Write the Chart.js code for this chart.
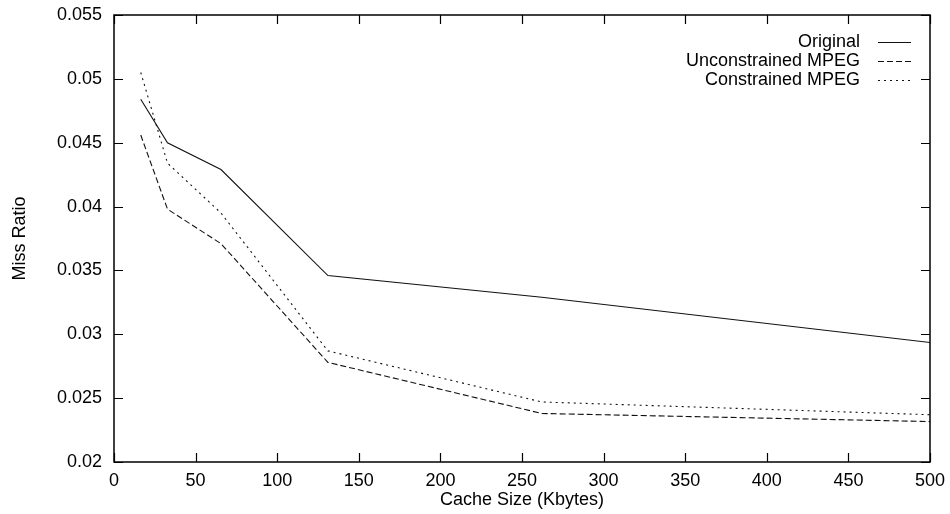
<!DOCTYPE html>
<html>
<head>
<meta charset="utf-8">
<script src="https://cdn.jsdelivr.net/npm/chart.js@4/dist/chart.umd.min.js"></script>
<style>
  html, body { margin: 0; padding: 0; background: #fff; }
  canvas { display: block; }
</style>
</head>
<body>
<canvas id="c" width="950" height="514"></canvas>
<script>
// Cache sizes (Kbytes) at which the miss ratio was measured
const cacheSizes = [16.384, 32.768, 65.536, 131.072, 262.144, 524.288];

// Miss ratio per trace
const originalMiss      = [0.0484, 0.0450, 0.0429, 0.0346, 0.0329, 0.0290];
const unconstrainedMiss = [0.0456, 0.0398, 0.0371, 0.0278, 0.0238, 0.0231];
const constrainedMiss   = [0.0505, 0.0434, 0.0395, 0.0287, 0.0247, 0.0236];

const seriesNames = ['Original', 'Unconstrained MPEG', 'Constrained MPEG'];

// Axis tick labels
const xTickLabels = ['0', '50', '100', '150', '200', '250', '300', '350', '400', '450', '500'];
const yTickLabels = ['0.02', '0.025', '0.03', '0.035', '0.04', '0.045', '0.05', '0.055'];

const FONT = 'Liberation Sans, Arial, Helvetica, sans-serif';

function toPoints(ys) {
  return cacheSizes.map((x, i) => ({ x: x, y: ys[i] }));
}

// Box border with inward tick marks on all four sides
const frameTicks = {
  id: 'frameTicks',
  afterDraw(chart) {
    const { ctx, chartArea: a, scales } = chart;
    const len = 9;
    ctx.save();
    ctx.strokeStyle = '#000';
    ctx.lineWidth = 1.5;
    ctx.strokeRect(a.left, a.top, a.right - a.left, a.bottom - a.top);
    ctx.lineWidth = 1.2;
    ctx.beginPath();
    scales.x.ticks.forEach(t => {
      const px = Math.round(scales.x.getPixelForValue(t.value)) + 0.5;
      ctx.moveTo(px, a.bottom); ctx.lineTo(px, a.bottom - len);
      ctx.moveTo(px, a.top); ctx.lineTo(px, a.top + len);
    });
    scales.y.ticks.forEach(t => {
      const py = Math.round(scales.y.getPixelForValue(t.value)) + 0.5;
      ctx.moveTo(a.left, py); ctx.lineTo(a.left + len, py);
      ctx.moveTo(a.right, py); ctx.lineTo(a.right - len, py);
    });
    ctx.stroke();
    ctx.restore();
  }
};

// Key in the upper-right corner: right-aligned name followed by a line sample
const keyBox = {
  id: 'keyBox',
  afterDraw(chart) {
    const { ctx } = chart;
    const textRight = 860, sampleL = 878, sampleR = 911;
    const rowTop = 42, rowStep = 19;
    ctx.save();
    ctx.font = '18px ' + FONT;
    ctx.textAlign = 'right';
    ctx.textBaseline = 'middle';
    chart.data.datasets.forEach((ds, i) => {
      const y = rowTop + i * rowStep;
      ctx.fillStyle = '#000';
      ctx.fillText(ds.label, textRight, y);
      ctx.strokeStyle = ds.borderColor;
      ctx.lineWidth = ds.borderWidth;
      ctx.setLineDash(ds.borderDash || []);
      ctx.beginPath();
      ctx.moveTo(sampleL, Math.round(y) + 0.5);
      ctx.lineTo(sampleR, Math.round(y) + 0.5);
      ctx.stroke();
    });
    ctx.restore();
  }
};

const styles = [
  { borderDash: [] },
  { borderDash: [6, 3] },
  { borderDash: [2, 4] }
];
const series = [originalMiss, unconstrainedMiss, constrainedMiss];

new Chart(document.getElementById('c'), {
  type: 'line',
  data: {
    datasets: series.map((ys, i) => ({
      label: seriesNames[i],
      data: toPoints(ys),
      borderColor: '#111',
      borderWidth: 1.1,
      borderDash: styles[i].borderDash,
      pointRadius: 0,
      tension: 0,
      fill: false
    }))
  },
  options: {
    responsive: false,
    animation: false,
    devicePixelRatio: 1,
    layout: { padding: { left: 0, right: 20, top: 15, bottom: 0 } },
    plugins: {
      legend: { display: false },
      tooltip: { enabled: false }
    },
    scales: {
      x: {
        type: 'linear',
        min: 0, max: 500,
        grid: { display: false, drawTicks: false },
        border: { display: false },
        ticks: {
          stepSize: 50,
          padding: 8,
          color: '#000',
          font: { family: FONT, size: 18, lineHeight: 1.2 },
          maxRotation: 0,
          callback: (v) => xTickLabels[Math.round(v / 50)]
        },
        title: {
          display: true,
          text: 'Cache Size (Kbytes)',
          color: '#000',
          font: { family: FONT, size: 18, lineHeight: 1 },
          padding: { top: 0, bottom: 5 }
        },
        afterFit(scale) {
          scale.height = 52;
          scale.paddingLeft = 0;
          scale.paddingRight = 0;
        }
      },
      y: {
        type: 'linear',
        min: 0.02, max: 0.055,
        grid: { display: false, drawTicks: false },
        border: { display: false },
        ticks: {
          stepSize: 0.005,
          padding: 12,
          color: '#000',
          font: { family: FONT, size: 18, lineHeight: 1.2 },
          callback: (v) => yTickLabels[Math.round((v - 0.02) / 0.005)]
        },
        title: {
          display: true,
          text: 'Miss Ratio',
          color: '#000',
          font: { family: FONT, size: 18, lineHeight: 1 },
          padding: { top: 11, bottom: 0 }
        },
        afterFit(scale) {
          scale.width = 114;
          scale.paddingTop = 0;
          scale.paddingBottom = 0;
        }
      }
    }
  },
  plugins: [frameTicks, keyBox]
});
</script>
</body>
</html>
